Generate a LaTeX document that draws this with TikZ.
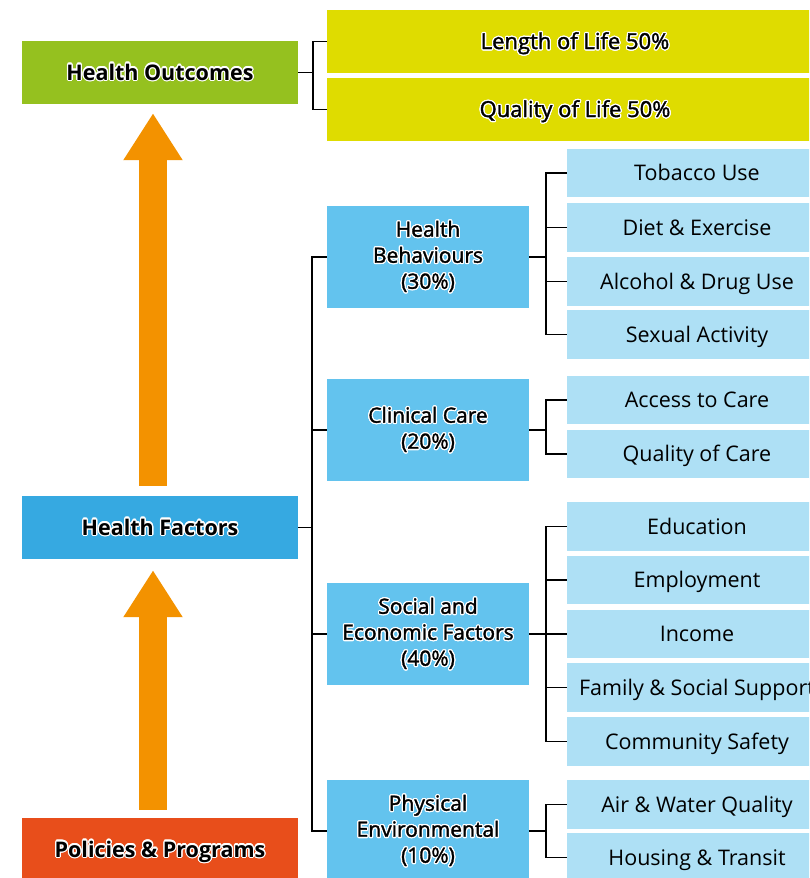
\documentclass[tikz,border=0pt]{standalone}
\usepackage{fontspec}
\setmainfont{Open Sans}
\newfontfamily\medfont[FakeBold=1.6]{Open Sans}
\usepackage{contour}
\usetikzlibrary{arrows.meta}

\definecolor{outgreen}{HTML}{95C11F}
\definecolor{facblue}{HTML}{36A9E1}
\definecolor{polred}{HTML}{E84E1B}
\definecolor{arrorange}{HTML}{F39200}
\definecolor{lifeyellow}{HTML}{DFDC00}
\definecolor{midblue}{HTML}{63C3EE}
\definecolor{leafblue}{HTML}{AEE0F5}

\contourlength{1.2pt}
\newcommand{\halo}[1]{\contour{white}{#1}}

\begin{document}
\begin{tikzpicture}[x=1pt,y=-1pt,
    mainbox/.style={rectangle, inner sep=0pt, minimum width=276, minimum height=63,
      text height=15pt, text depth=0pt, font=\bfseries\fontsize{21.5}{24}\selectfont},
    lifebox/.style={rectangle, inner sep=0pt, fill=lifeyellow, minimum width=496,
      minimum height=63, text height=15pt, text depth=0pt,
      font=\medfont\fontsize{22}{24}\selectfont},
    groupbox/.style={rectangle, inner sep=0pt, fill=midblue, minimum width=202,
      minimum height=102, align=center, font=\medfont\fontsize{21}{26}\selectfont},
    leafbox/.style={rectangle, inner sep=0pt, fill=leafblue, minimum width=260,
      minimum height=48.5, text height=15pt, text depth=0pt,
      font=\fontsize{21.5}{24}\selectfont},
    link/.style={line width=1.6pt},
    bigarrow/.style={draw=arrorange, line width=28pt,
      -{Triangle[width=56pt,length=47pt,fill=arrorange]}}]

  \useasboundingbox (0,0) rectangle (809,878);
  \clip (0,0) rectangle (809,878);

  % left column
  \node[mainbox, fill=outgreen] (ho) at (160,72.5) {\halo{Health Outcomes}};
  \node[mainbox, fill=facblue] (hf) at (160,527.5) {\halo{Health Factors}};
  \node[mainbox, fill=polred] (pp) at (160,849.5) {\halo{Policies \& Programs}};

  \draw[bigarrow, shorten <=8pt, shorten >=11pt] ([xshift=-7]pp.north) -- ([xshift=-7]hf.south);
  \draw[bigarrow, shorten <=10pt, shorten >=9pt] ([xshift=-7]hf.north) -- ([xshift=-7]ho.south);

  % outcomes
  \node[lifebox] (len) at (575,41.5) {\halo{Length of Life 50\%}};
  \node[lifebox] (qol) at (575,109.5) {\halo{Quality of Life 50\%}};

  % factor groups
  \node[groupbox] (hb) at (428,257) {\halo{Health}\\\halo{Behaviours}\\\halo{(30\%)}};
  \node[groupbox] (cc) at (428,430) {\halo{Clinical Care}\\\halo{(20\%)}};
  \node[groupbox] (se) at (428,634) {\halo{Social and}\\\halo{Economic Factors}\\\halo{(40\%)}};
  \node[groupbox] (pe) at (428,831) {\halo{Physical}\\\halo{Environmental}\\\halo{(10\%)}};

  % leaves
  \node[leafbox] (tob) at (697,173) {Tobacco Use};
  \node[leafbox] (diet) at (697,227.5) {Diet \& Exercise};
  \node[leafbox] (alc) at (697,281.5) {Alcohol \& Drug Use};
  \node[leafbox] (sex) at (697,334.5) {Sexual Activity};

  \node[leafbox] (acc) at (697,400) {Access to Care};
  \node[leafbox] (qoc) at (697,454) {Quality of Care};

  \node[leafbox] (edu) at (697,526.5) {Education};
  \node[leafbox] (emp) at (697,580) {Employment};
  \node[leafbox] (inc) at (697,634) {Income};
  \node[leafbox] (fam) at (697,687.5) {Family \& Social Support};
  \node[leafbox] (saf) at (697,741.5) {Community Safety};

  \node[leafbox] (air) at (697,804.5) {Air \& Water Quality};
  \node[leafbox] (hou) at (697,857.5) {Housing \& Transit};

  % brackets
  \draw[link] (ho.east) -- ++(15,0);
  \draw[link] (len.west) -- ++(-14,0) |- (qol.west);

  \draw[link] (hf.east) -- ++(15,0);
  \draw[link] (hb.west) -- ++(-15,0) |- (pe.west);
  \draw[link] (cc.west) -- ++(-15,0);
  \draw[link] (se.west) -- ++(-15,0);

  \draw[link] (hb.east) -- ++(17,0);
  \draw[link] (tob.west) -- ++(-21,0) |- (sex.west);
  \draw[link] (diet.west) -- ++(-21,0);
  \draw[link] (alc.west) -- ++(-21,0);

  \draw[link] (cc.east) -- ++(17,0);
  \draw[link] (acc.west) -- ++(-21,0) |- (qoc.west);

  \draw[link] (se.east) -- ++(17,0);
  \draw[link] (edu.west) -- ++(-21,0) |- (saf.west);
  \draw[link] (emp.west) -- ++(-21,0);
  \draw[link] (inc.west) -- ++(-21,0);
  \draw[link] (fam.west) -- ++(-21,0);

  \draw[link] (pe.east) -- ++(17,0);
  \draw[link] (air.west) -- ++(-21,0) |- (hou.west);

\end{tikzpicture}
\end{document}
